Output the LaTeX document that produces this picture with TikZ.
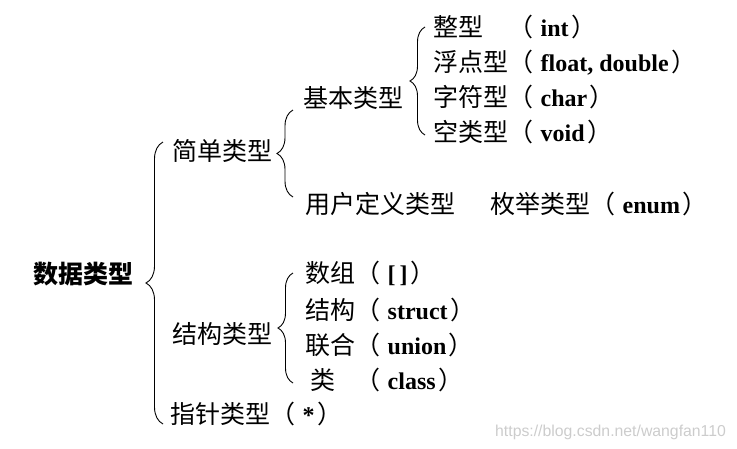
\documentclass[tikz,border=0pt]{standalone}
\usepackage{fontspec}
\setmainfont{Noto Sans CJK SC}
\newfontfamily\enfont{Liberation Serif}
\newfontfamily\urlfont{Liberation Sans}
\usetikzlibrary{decorations.pathreplacing}
\newcommand{\en}[1]{{\enfont\bfseries\fontsize{24}{28}\selectfont #1}}
\newcommand{\pl}[1]{（\hspace{0.3em}\en{#1}\hspace{0.1em}）}

\begin{document}
\begin{tikzpicture}[x=1pt, y=-1pt, font=\fontsize{25}{30}\selectfont,
  lbl/.style={anchor=base west, inner sep=0pt},
  brc/.style={decorate, decoration={brace, amplitude=#1}, line width=0.9pt}]
  \useasboundingbox (0,0) rectangle (737,448);
  % root and second level
  \node[lbl, font=\fontsize{25}{30}\selectfont\bfseries] (root) at (33,283) {数据类型};
  \node[lbl] (simple) at (172,160) {简单类型};
  \node[lbl] (struct) at (172,343) {结构类型};
  \node[lbl] (ptr) at (170,423) {指针类型\pl{*}};
  % third level
  \node[lbl] (basic) at (303,107) {基本类型};
  \node[lbl] (user) at (305,213) {用户定义类型\hspace{1.4em}枚举类型\pl{enum}};
  \foreach \y/\name/\txt in {27/int/{整型　\pl{int}}, 62/float/{浮点型\pl{float, double}},
      97/char/{字符型\pl{char}}, 132/void/{空类型\pl{void}}}
    \node[lbl] (\name) at (433,\y+9.5) {\txt};
  \foreach \y/\name/\txt in {273/arr/{数组\pl{[\,]}}, 310/stc/{结构\pl{struct}},
      345/uni/{联合\pl{union}}, 380/cls/{\hspace{0.2em}类\hspace{0.8em}\pl{class}}}
    \node[lbl] (\name) at (305,\y+9.5) {\txt};
  % braces
  \coordinate (b0t) at (163,142); \coordinate (b0b) at (163,424);
  \coordinate (b1t) at (293,110); \coordinate (b1b) at (293,197);
  \coordinate (b2t) at (425,27);  \coordinate (b2b) at (425,135);
  \coordinate (b3t) at (293,273); \coordinate (b3b) at (293,383);
  \draw[brc=17pt] (b0b) -- (b0t);
  \draw[brc=16pt] (b1b) -- (b1t);
  \draw[brc=15pt] (b2b) -- (b2t);
  \draw[brc=15pt] (b3b) -- (b3t);
  % watermark
  \node[lbl, text=gray!40, font=\urlfont\fontsize{15.8}{18}\selectfont] (wm) at (495,436) {https://blog.csdn.net/wangfan110};
\end{tikzpicture}
\end{document}
